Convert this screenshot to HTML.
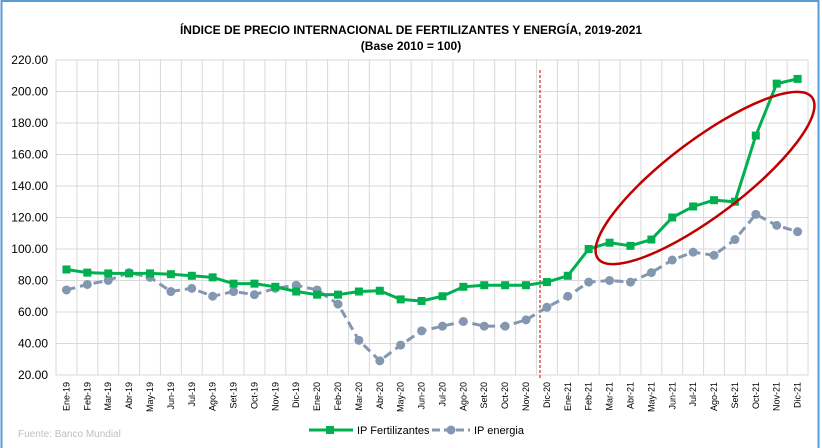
<!DOCTYPE html>
<html><head><meta charset="utf-8"><style>
body{margin:0;background:#fff}
svg{display:block;font-family:"Liberation Sans",sans-serif}
</style></head><body>
<svg width="822" height="448" viewBox="0 0 822 448" xmlns="http://www.w3.org/2000/svg">
<rect x="1.5" y="1" width="817" height="450" fill="#fff" stroke="#5b9bd5" stroke-width="2"/>
<text x="411" y="34" text-anchor="middle" font-size="12" font-weight="bold">ÍNDICE DE PRECIO INTERNACIONAL DE FERTILIZANTES Y ENERGÍA, 2019-2021</text>
<text x="411" y="50" text-anchor="middle" font-size="12" font-weight="bold">(Base 2010 = 100)</text>
<g id="grid" stroke="#d9d9d9" stroke-width="1"></g>
<g id="ylab" font-size="12" text-anchor="end"></g>
<g id="xlab" font-size="9"></g>
<line x1="540" y1="70" x2="540" y2="380" stroke="#e02020" stroke-width="1.2" stroke-dasharray="3,2"/>
<polyline id="en" fill="none" stroke="#8497b0" stroke-width="3" stroke-dasharray="9,5"/>
<g id="enm" fill="#8497b0"></g>
<polyline id="fe" fill="none" stroke="#00b050" stroke-width="3"/>
<g id="fem" fill="#00b050"></g>
<ellipse cx="705" cy="178" rx="134" ry="38" transform="rotate(-37 705 178)" fill="none" stroke="#c00000" stroke-width="2.5"/>
<text x="18" y="437" font-size="10" fill="#bfbfbf">Fuente: Banco Mundial</text>
<line x1="309" y1="430" x2="353" y2="430" stroke="#00b050" stroke-width="3"/>
<rect x="326" y="426" width="8" height="8" fill="#00b050"/>
<text x="357" y="434" font-size="11">IP Fertilizantes</text>
<line x1="432" y1="430" x2="470" y2="430" stroke="#8497b0" stroke-width="3" stroke-dasharray="8,4"/>
<circle cx="451" cy="430" r="4.5" fill="#8497b0"/>
<text x="474" y="434" font-size="11">IP energia</text>
</svg>
<script>
const ns="http://www.w3.org/2000/svg";
const L=56,W=20.89,y=v=>375-(v-20)*1.575;
const g=document.getElementById('grid'),yl=document.getElementById('ylab'),xl=document.getElementById('xlab');
function el(p,t,a){const e=document.createElementNS(ns,t);for(const k in a)e.setAttribute(k,a[k]);p.appendChild(e);return e;}
for(let v=20;v<=220;v+=20){el(g,'line',{x1:L,x2:L+36*W,y1:y(v),y2:y(v)});const t=el(yl,'text',{x:48,y:y(v)+4});t.textContent=v.toFixed(2);}
for(let i=0;i<=36;i++)el(g,'line',{x1:L+i*W,x2:L+i*W,y1:y(220),y2:y(20)});
const m=['Ene','Feb','Mar','Abr','May','Jun','Jul','Ago','Set','Oct','Nov','Dic'];
for(let i=0;i<36;i++){const x=L+(i+.5)*W+3;const t=el(xl,'text',{x:x,y:382,transform:`rotate(-90 ${x} 382)`,'text-anchor':'end'});t.textContent=m[i%12]+'-'+(19+Math.floor(i/12));}
const F=[87,85,84.5,84.5,84.5,84,83,82,78,78,76,73,71,71,73,73.5,68,67,70,76,77,77,77,79,83,100,104,102,106,120,127,131,130,172,205,208];
const E=[74,77.5,80,85,82,73,75,70,73,71,75,77,74,65,42,29,39,48,51,54,51,51,55,63,70,79,80,79,85,93,98,96,106,122,115,111];
const px=i=>L+(i+.5)*W;
document.getElementById('fe').setAttribute('points',F.map((v,i)=>px(i)+','+y(v)).join(' '));
document.getElementById('en').setAttribute('points',E.map((v,i)=>px(i)+','+y(v)).join(' '));
F.forEach((v,i)=>el(document.getElementById('fem'),'rect',{x:px(i)-4,y:y(v)-4,width:8,height:8}));
E.forEach((v,i)=>el(document.getElementById('enm'),'circle',{cx:px(i),cy:y(v),r:4.5}));
</script>
</body></html>
